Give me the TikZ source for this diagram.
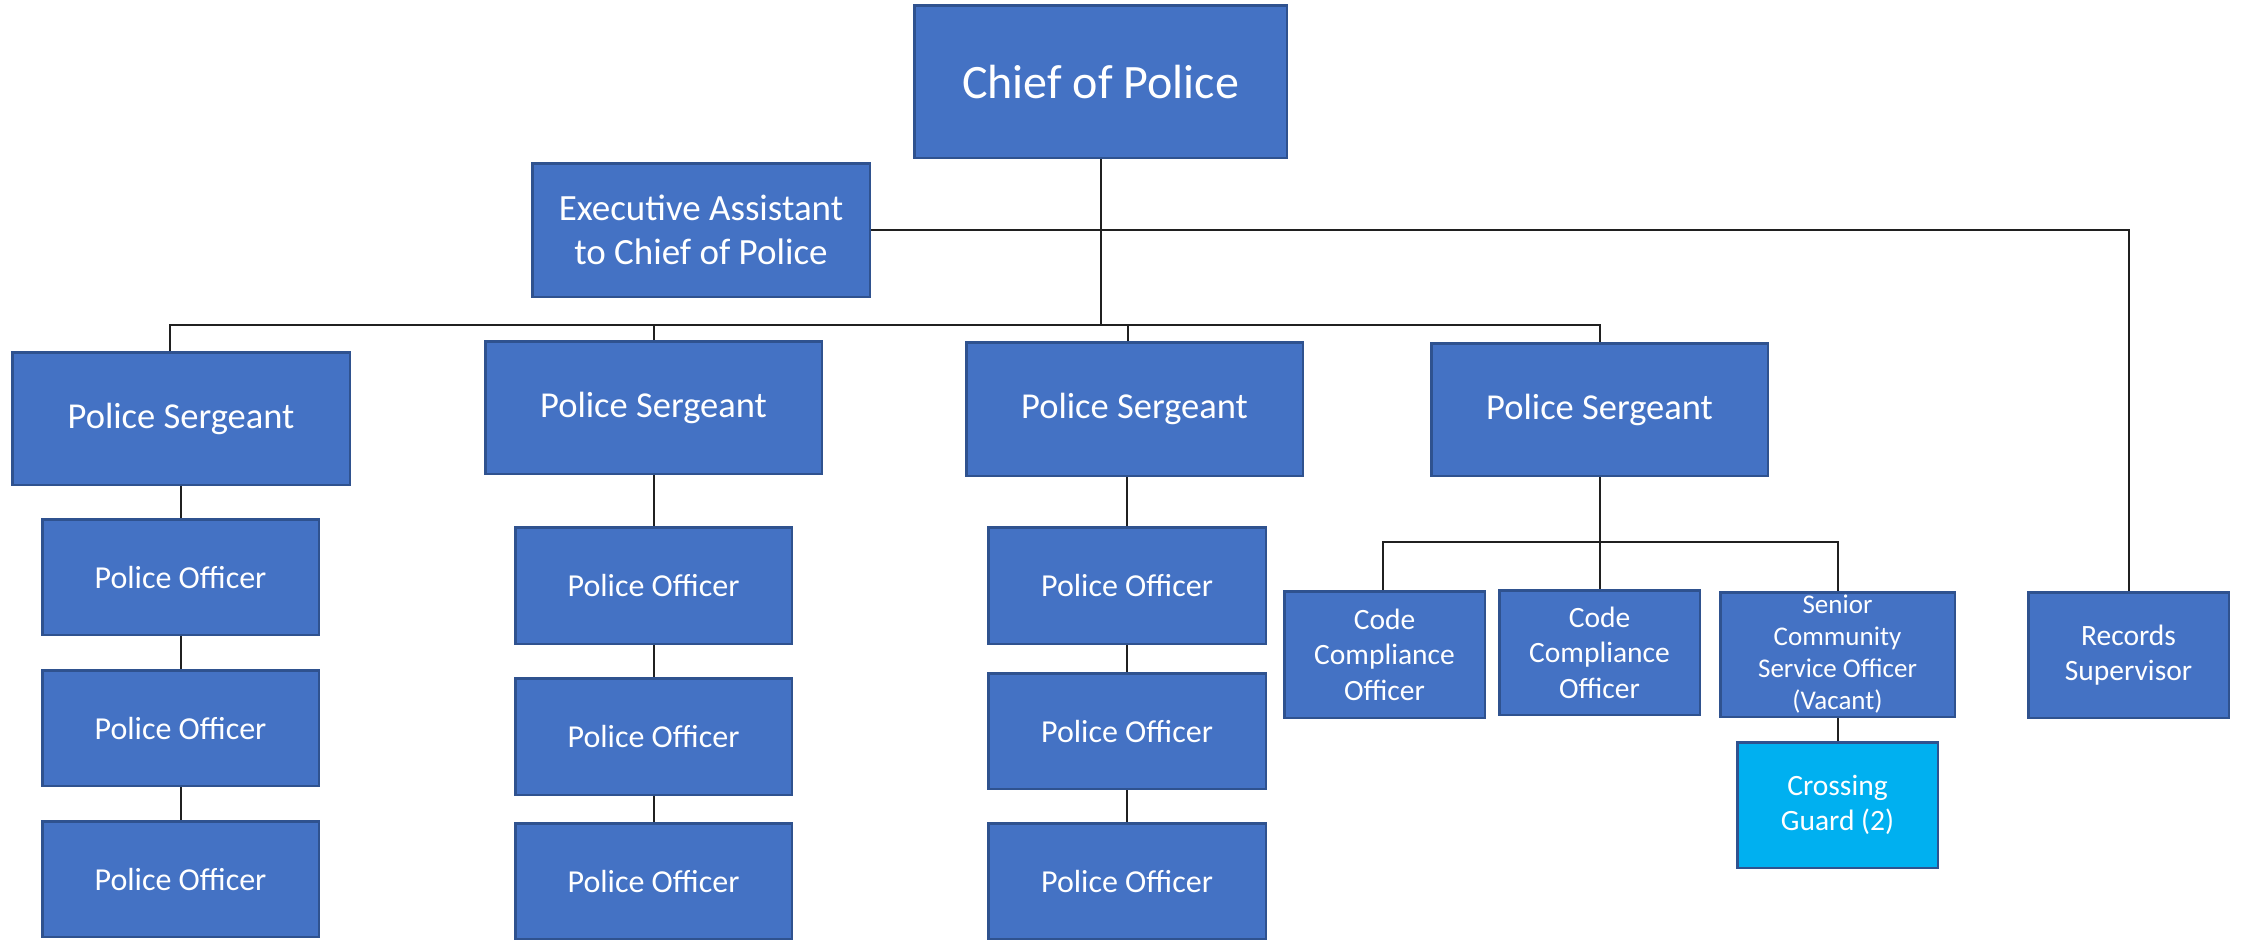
\documentclass[tikz,border=0pt]{standalone}
\usepackage{fontspec}
\setmainfont{Carlito}
\definecolor{boxfill}{HTML}{4472C4}
\definecolor{boxline}{HTML}{2F528F}
\definecolor{guardfill}{HTML}{00B0F0}
\definecolor{wire}{HTML}{202020}
\tikzset{
  orgbox/.style={draw=boxline, line width=2.5pt, fill=boxfill, text=white,
    inner sep=0pt, align=center, rectangle},
  guardbox/.style={orgbox, fill=guardfill},
  wiring/.style={draw=wire, line width=2pt},
  % box size from its outer extent
  sz/.style 2 args={minimum width=#1pt-2.5pt, minimum height=#2pt-2.5pt},
  fchief/.style={font=\fontsize{48}{57}\selectfont},
  fexec/.style={font=\fontsize{37}{44}\selectfont},
  fsgt/.style={font=\fontsize{36.5}{44}\selectfont},
  foff/.style={font=\fontsize{32}{38}\selectfont},
  fsmall/.style={font=\fontsize{29.5}{35.5}\selectfont},
  fsenior/.style={font=\fontsize{27}{32}\selectfont},
}
\begin{document}
\begin{tikzpicture}[x=1pt,y=-1pt]
\useasboundingbox (0,0) rectangle (2241,940);

% top level
\node[orgbox,fchief,sz={375}{155}] (chief) at (1100.5,81.5) {Chief of Police};
\node[orgbox,fexec,sz={340}{136}] (exec) at (701,230) {Executive Assistant\\to Chief of Police};
\node[orgbox,fsmall,sz={203}{128}] (rec) at (2128.5,655) {Records\\Supervisor};

% sergeants
\node[orgbox,fsgt,sz={340}{135}] (s1) at (181,418.5) {Police Sergeant};
\node[orgbox,fsgt,sz={339}{135}] (s2) at (653.5,407.5) {Police Sergeant};
\node[orgbox,fsgt,sz={339}{136}] (s3) at (1134.5,409) {Police Sergeant};
\node[orgbox,fsgt,sz={339}{135}] (s4) at (1599.5,409.5) {Police Sergeant};

% officers
\node[orgbox,foff,sz={279}{118}] (o11) at (180.5,577) {Police Officer};
\node[orgbox,foff,sz={279}{118}] (o12) at (180.5,728) {Police Officer};
\node[orgbox,foff,sz={279}{118}] (o13) at (180.5,879) {Police Officer};
\node[orgbox,foff,sz={279}{119}] (o21) at (653.5,585.5) {Police Officer};
\node[orgbox,foff,sz={279}{119}] (o22) at (653.5,736.5) {Police Officer};
\node[orgbox,foff,sz={279}{118}] (o23) at (653.5,881) {Police Officer};
\node[orgbox,foff,sz={280}{119}] (o31) at (1127,585.5) {Police Officer};
\node[orgbox,foff,sz={280}{118}] (o32) at (1127,731) {Police Officer};
\node[orgbox,foff,sz={280}{118}] (o33) at (1127,881) {Police Officer};

% fourth sergeant's unit
\node[orgbox,fsmall,sz={203}{129}] (cc1) at (1384.5,654.5) {Code\\Compliance\\Officer};
\node[orgbox,fsmall,sz={203}{127}] (cc2) at (1599.5,652.5) {Code\\Compliance\\Officer};
\node[orgbox,fsenior,sz={237}{127}] (cso) at (1837.5,654.5) {Senior\\Community\\Service Officer\\(Vacant)};
\node[guardbox,fsmall,sz={203}{128}] (guard) at (1837.5,805) {Crossing\\Guard (2)};

% bus lines
\coordinate (bus) at (0,325);
\coordinate (sub) at (0,542);

\draw[wiring] (chief.south) -- (chief.south |- bus);
\draw[wiring] ([xshift=-11pt]s1.north) -- ([xshift=-11pt]s1.north |- bus) -| (s4.north);
\draw[wiring] (s2.north) -- (s2.north |- bus);
\draw[wiring] ([xshift=-6.5pt]s3.north) -- ([xshift=-6.5pt]s3.north |- bus);
\draw[wiring] (exec.east) -| (rec.north);

% officer chains
\draw[wiring] (s1.south) -- (s1.south |- o11.north);
\draw[wiring] (o11.south) -- (o12.north);
\draw[wiring] (o12.south) -- (o13.north);
\draw[wiring] (s2.south) -- (o21.north);
\draw[wiring] (o21.south) -- (o22.north);
\draw[wiring] (o22.south) -- (o23.north);
\draw[wiring] ([xshift=-7.5pt]s3.south) -- (o31.north);
\draw[wiring] (o31.south) -- (o32.north);
\draw[wiring] (o32.south) -- (o33.north);

% code compliance and community service
\draw[wiring] (s4.south) -- (cc2.north);
\draw[wiring] ([xshift=-1.5pt]cc1.north) -- ([xshift=-1.5pt]cc1.north |- sub) -| (cso.north);
\draw[wiring] (cso.south) -- (guard.north);
\end{tikzpicture}
\end{document}
